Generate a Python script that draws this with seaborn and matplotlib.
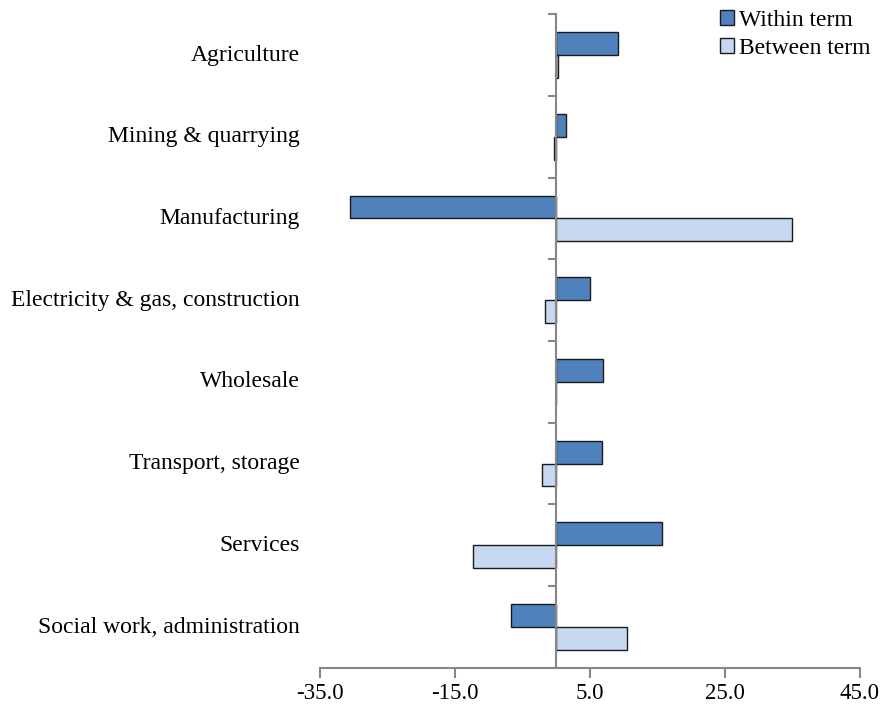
import pandas as pd
import matplotlib.pyplot as plt
import seaborn as sns
from matplotlib.ticker import FixedLocator, FormatStrFormatter
from matplotlib.transforms import blended_transform_factory

sectors = [
    "Agriculture", "Mining & quarrying", "Manufacturing",
    "Electricity & gas, construction", "Wholesale", "Transport, storage",
    "Services", "Social work, administration",
]
within_term = [9.1, 1.5, -30.6, 5.0, 7.0, 6.8, 15.7, -6.7]
between_term = [0.3, -0.35, 35.0, -1.7, 0.0, -2.1, -12.4, 10.5]
series = ["Within term", "Between term"]
colors = ["#4F81BD", "#C6D9F1"]

df = pd.DataFrame({
    "sector": sectors * 2,
    "value": within_term + between_term,
    "term": [series[0]] * len(sectors) + [series[1]] * len(sectors),
})

sns.set_style("white")
plt.rcParams["font.family"] = ["Liberation Serif", "DejaVu Serif"]
plt.rcParams["text.color"] = "black"
plt.rcParams["xtick.color"] = "black"

fig = plt.figure(figsize=(8.85, 7.09), dpi=100)
ax = fig.add_axes([0.3616, 0.058, 0.61, 0.922])

sns.barplot(data=df, y="sector", x="value", hue="term", order=sectors,
            hue_order=series, palette=colors, saturation=1, width=0.56,
            orient="h", edgecolor="#1a1a1a", linewidth=1.0, ax=ax, legend=True)

ax.set_xlim(-35, 45)
ax.set_ylim(len(sectors) - 0.5, -0.5)
ax.set_xticks([-35, -15, 5, 25, 45])
ax.xaxis.set_major_formatter(FormatStrFormatter("%.1f"))
ax.set_xlabel("")
ax.set_ylabel("")

spine_col = "#878787"
for s in ["top", "right"]:
    ax.spines[s].set_visible(False)
ax.spines["left"].set_position(("data", 0))
ax.spines["left"].set_color(spine_col)
ax.spines["left"].set_linewidth(1.5)
ax.spines["bottom"].set_color(spine_col)
ax.spines["bottom"].set_linewidth(1.5)

ax.tick_params(axis="x", direction="out", length=7, width=1.5,
               color=spine_col, labelcolor="black", labelsize=16.5, pad=4,
               bottom=True)
ax.tick_params(axis="y", which="major", length=0, labelleft=False)
ax.yaxis.set_minor_locator(FixedLocator([i - 0.5 for i in range(len(sectors) + 1)]))
ax.tick_params(axis="y", which="minor", direction="out", length=6, width=1.5,
               color=spine_col, left=True)

trans = blended_transform_factory(ax.transAxes, ax.transData)
for i, name in enumerate(sectors):
    ax.text(-0.037, i, name, transform=trans, ha="right", va="center",
            fontsize=17, color="black")

ax.legend(loc="upper right", bbox_to_anchor=(1.037, 1.021), frameon=False,
          fontsize=17, handlelength=0.6, handleheight=0.6, handletextpad=0.2,
          labelspacing=0.3, borderaxespad=0)

fig.savefig("out.png", dpi=100)
